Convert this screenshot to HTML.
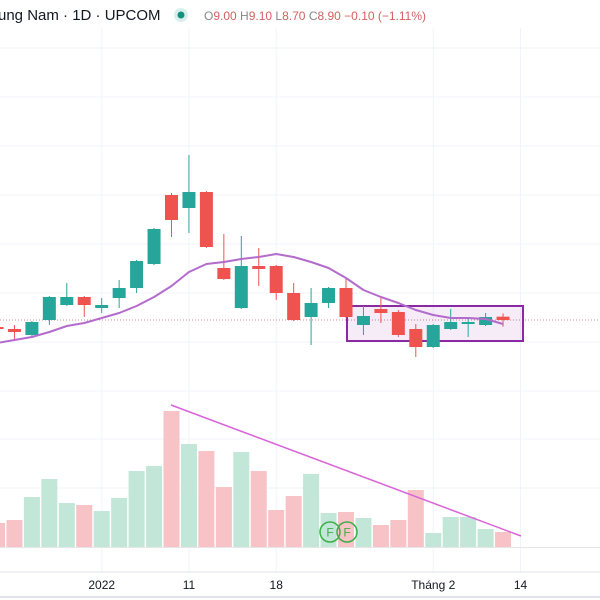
<!DOCTYPE html>
<html><head><meta charset="utf-8"><style>
html,body{margin:0;padding:0;background:#fff;width:600px;height:600px;overflow:hidden;font-family:"Liberation Sans",sans-serif;}
svg{position:absolute;left:0;top:0;}
</style></head><body>
<svg id="chart" width="600" height="600">
<g id="grid"></g>
<g id="vol"></g>
<g id="price"></g>
<g id="axis"></g>
<g>
<text x="-2" y="20" font-size="15" fill="#131722">ung Nam · 1D · UPCOM</text>
<circle cx="181" cy="15" r="7" fill="#d8f0ec"/>
<circle cx="181" cy="15" r="3.5" fill="#13917f"/>
<text x="204" y="20" font-size="12" fill="#d1615e"><tspan fill="#888">O</tspan>9.00 <tspan fill="#888">H</tspan>9.10 <tspan fill="#888">L</tspan>8.70 <tspan fill="#888">C</tspan>8.90 −0.10 (−1.11%)</text>
</g>
</svg>
<script>
const opens=[8.69,8.63,8.45,8.90,9.35,9.59,9.26,9.56,9.86,10.58,12.65,12.26,12.74,10.46,9.26,10.52,10.52,9.71,8.99,9.41,9.86,8.75,9.23,9.14,8.63,8.09,8.63,8.81,8.75,9.00];
const highs=[8.72,8.75,8.87,9.62,10.01,9.62,9.56,10.10,10.70,11.66,12.71,13.85,12.77,11.48,11.42,11.06,10.55,10.01,9.86,9.89,10.19,9.32,9.62,9.20,8.78,8.78,9.23,8.99,9.11,9.10];
const lows=[8.60,8.33,8.39,8.75,9.32,8.99,9.11,9.26,9.71,10.55,11.39,11.51,11.06,10.10,9.23,9.92,9.50,8.87,8.15,9.26,8.96,8.45,8.81,8.39,7.79,8.06,8.60,8.39,8.72,8.70];
const closes=[8.63,8.54,8.84,9.59,9.59,9.35,9.35,9.86,10.67,11.63,11.90,12.74,11.09,10.13,10.52,10.43,9.71,8.90,9.41,9.86,8.99,9.02,9.11,8.45,8.09,8.75,8.84,8.84,8.99,8.90];
const maValues=[8.21,8.30,8.39,8.54,8.72,8.81,8.96,9.11,9.32,9.59,9.92,10.34,10.58,10.64,10.73,10.79,10.88,10.79,10.64,10.46,10.16,9.80,9.59,9.41,9.20,9.05,8.96,8.96,8.93,8.78];
const volumes=[120,135,250,340,220,210,180,245,380,405,680,515,480,300,475,380,185,255,365,170,175,145,110,135,285,70,150,150,90,75];
const tickLabels=["2022","11","18","Tháng 2","14"];
const tickIndex=[6,11,16,25,30];
const lastClose=8.90;

const NS="http://www.w3.org/2000/svg";
const X=i=>-3+17.45*i;
const Y=p=>320-(p-8.9)/0.03;
const VB=547, VS=0.2;
const V=v=>VB-v*VS;
function mk(tag,attrs,parent){const e=document.createElementNS(NS,tag);for(const k in attrs)e.setAttribute(k,attrs[k]);parent.appendChild(e);return e;}
const grid=document.getElementById('grid'),price=document.getElementById('price'),vol=document.getElementById('vol'),axis=document.getElementById('axis');
[48,97,146,195,244,293,342,391,439,488].forEach(y=>{
 const l=mk('line',{x1:0,x2:600,y1:y,y2:y,stroke:'#f0f3fa','stroke-width':1},grid);
 
 
});
tickIndex.forEach((ti,k)=>{
 const x=X(ti);
 const l=mk('line',{x1:x,x2:x,y1:28,y2:572,stroke:'#f0f3fa','stroke-width':1},grid);
 
 
 const t=mk('text',{x:x,y:589,'font-size':12,fill:'#131722','text-anchor':'middle'},axis);
 t.textContent=tickLabels[k];
 
 
});
const sep=mk('line',{x1:0,x2:600,y1:572,y2:572,stroke:'#e0e3eb','stroke-width':1},axis);


const base=mk('line',{x1:0,x2:600,y1:VB+0.5,y2:VB+0.5,stroke:'#e6e6e6','stroke-width':1},vol);


const bot=mk('line',{x1:0,x2:600,y1:597,y2:597,stroke:'#e0e3eb','stroke-width':2},axis);



// volume bars
volumes.forEach((v,i)=>{
 const up=closes[i]>=opens[i];
 const r=mk('rect',{x:X(i)-8,y:V(v),width:16,height:VB-V(v),fill:up?'#c2e6d7':'#f7c3c6'},vol);
 
 
});
// trend line on volume
const tl=mk('line',{x1:171,y1:405,x2:521,y2:536,stroke:'#d963d9','stroke-width':1.5},vol);


[330,347].forEach(cx=>{
 const g=mk('g',{},vol);
 
 
 mk('circle',{cx:cx,cy:532,r:10,fill:'none',stroke:'#3fae49','stroke-width':1.5},g);
 const t=mk('text',{x:cx,y:536.5,'font-size':12,fill:'#3fae49','text-anchor':'middle'},g);
 t.textContent='F';
});

// dotted last price line
const dl=mk('line',{x1:0,x2:600,y1:Y(lastClose),y2:Y(lastClose),stroke:'#c98a8a','stroke-width':1,'stroke-dasharray':'1 2'},price);



// rectangle
const box=mk('rect',{x:347,y:306,width:176,height:35,fill:'rgba(156,39,176,0.09)',stroke:'#8b2aa0','stroke-width':2},price);



// candles
opens.forEach((o,i)=>{
 const c=closes[i],up=c>=o,col=up?'#26a69a':'#ef5350',x=X(i);
 const g=mk('g',{},price);
 
 
 mk('line',{x1:x,x2:x,y1:Y(highs[i]),y2:Y(lows[i]),stroke:col,'stroke-width':1},g);
 const t=Y(Math.max(o,c)),b=Y(Math.min(o,c));
 mk('rect',{x:x-6.5,y:t,width:13,height:Math.max(2,b-t),fill:col},g);
});

// MA line
const pts=maValues.map((m,i)=>X(i)+','+Y(m)).join(' ');
const ma=mk('polyline',{points:pts,fill:'none',stroke:'#b36bcc','stroke-width':2,'stroke-linejoin':'round'},price);


</script>
</body></html>
